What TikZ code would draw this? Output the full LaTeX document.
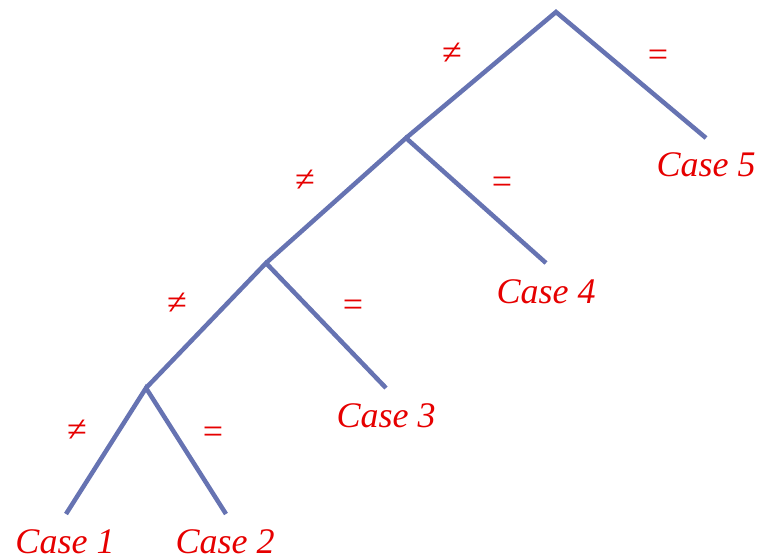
\documentclass[tikz,border=0pt]{standalone}
\usepackage{fontspec}
\setmainfont{Liberation Serif}
\usepackage{tikz}
\usetikzlibrary{positioning}
\definecolor{branchblue}{RGB}{102,115,178}
\definecolor{caseRed}{RGB}{230,0,0}

\begin{document}
\begin{tikzpicture}[
      x=1pt,
      y=-1pt,
      branch/.style={draw=branchblue, line width=4.5pt, line join=miter},
      case/.style={text=caseRed, font=\fontsize{36}{40}\selectfont\itshape,
        inner sep=0pt, anchor=base},
      test/.style={text=caseRed, font=\fontsize{36}{40}\selectfont,
        inner sep=0pt}
    ]
    \useasboundingbox (0,0) rectangle (762,558);
    % branching points and leaves
    \coordinate (root) at (556,12);
    \coordinate (n4) at (406,138);
    \coordinate (n3) at (266,263);
    \coordinate (n2) at (146,388);
    \coordinate (c5) at (706,138);
    \coordinate (c4) at (546,263);
    \coordinate (c3) at (386,388);
    \coordinate (c2) at (226,514);
    \coordinate (c1) at (66,514);

    \draw[branch] (n4) -- (root) -- (c5);
    \draw[branch] (n3) -- (n4) -- (c4);
    \draw[branch] (n2) -- (n3) -- (c3);
    \draw[branch] (c1) -- (n2) -- (c2);

    \node[case] (case5) at (706,176) {Case 5};
    \node[case] (case4) at (546,303) {Case 4};
    \node[case] (case3) at (386,427) {Case 3};
    \node[case] (case2) at (225,553) {Case 2};
    \node[case] (case1) at (65,553) {Case 1};

    \node[test] (ne4) at (452,54) {≠};
    \node[test] (eq5) at (658,58) {=};
    \node[test] (ne3) at (305,181) {≠};
    \node[test] (eq4) at (502,185) {=};
    \node[test] (ne2) at (177,304) {≠};
    \node[test] (eq3) at (353,308) {=};
    \node[test] (ne1) at (77,431) {≠};
    \node[test] (eq2) at (213,435) {=};
  \end{tikzpicture}
\end{document}
